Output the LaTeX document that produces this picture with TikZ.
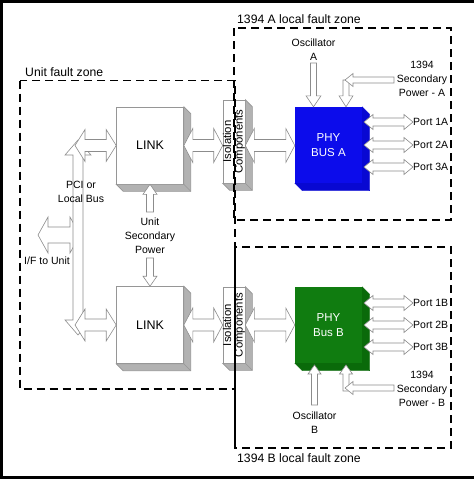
\documentclass[tikz,border=0pt]{standalone}
\usepackage{fontspec}
\setmainfont{Liberation Sans}
\usetikzlibrary{calc}
\definecolor{arrowgray}{RGB}{140,140,140}
\definecolor{shadegray}{RGB}{178,178,178}
\definecolor{boxline}{RGB}{150,150,150}
\definecolor{phyblue}{RGB}{12,12,235}
\definecolor{phybluedark}{RGB}{8,8,210}
\definecolor{phygreen}{RGB}{16,124,16}
\definecolor{phygreendark}{RGB}{10,106,10}
\tikzset{
  barrow/.style={draw=arrowgray, fill=white, line width=0.6pt, line join=miter},
  zone/.style={draw=black, line width=1.2pt, dash pattern=on 8pt off 5pt},
  face/.style={draw=boxline, fill=white, line width=0.6pt, inner sep=0pt},
  sideface/.style={fill=shadegray, draw=boxline, line width=0.6pt},
  phyface/.style={inner sep=0pt, text=white, align=center, font=\fontsize{11.5}{15}\selectfont},
  lbl/.style={font=\fontsize{10.5}{14}\selectfont, align=center, inner sep=0pt},
  zlbl/.style={font=\fontsize{12.2}{14}\selectfont, anchor=west, inner sep=0pt},
}
% double block arrow: start, end, head length, head half width, shaft half width
\newcommand{\dbl}[5]{\draw[barrow] (#1) -- ($(#1)!#3!(#2)!#4!90:(#2)$) -- ($(#1)!#3!(#2)!#5!90:(#2)$) -- ($(#2)!#3!(#1)!#5!-90:(#1)$) -- ($(#2)!#3!(#1)!#4!-90:(#1)$) -- (#2) -- ($(#2)!#3!(#1)!#4!90:(#1)$) -- ($(#2)!#3!(#1)!#5!90:(#1)$) -- ($(#1)!#3!(#2)!#5!-90:(#2)$) -- ($(#1)!#3!(#2)!#4!-90:(#2)$) -- cycle;}
% single block arrow: tail, tip, head length, head half width, shaft half width
\newcommand{\sgl}[5]{\draw[barrow] ($(#1)!#5!90:(#2)$) -- ($(#2)!#3!(#1)!#5!-90:(#1)$) -- ($(#2)!#3!(#1)!#4!-90:(#1)$) -- (#2) -- ($(#2)!#3!(#1)!#4!90:(#1)$) -- ($(#2)!#3!(#1)!#5!90:(#1)$) -- ($(#1)!#5!-90:(#2)$) -- cycle;}
% 3D extrusion of a node (down-right)
\newcommand{\extrude}[3]{\filldraw[#3] (#1.north east) -- ++(#2,#2) -- ($(#1.south east)+(#2,#2)$) -- ($(#1.south west)+(#2,#2)$) -- (#1.south west) -- (#1.south east) -- cycle; \draw[#3] (#1.south east) -- ++(#2,#2);}
\begin{document}
\begin{tikzpicture}[x=1pt,y=-1pt]
\useasboundingbox (0,0) rectangle (474,479);
% outer frame
\fill[black] (0,0) rectangle (474,2.6);
\fill[black] (0,0) rectangle (2.6,479);
\fill[black] (0,475.5) rectangle (474,479);

% boxes
\node[face, minimum width=67pt, minimum height=77pt, font=\fontsize{12.5}{14}\selectfont] (link1) at (150,145.5) {LINK};
\extrude{link1}{7}{sideface}
\node[face, minimum width=67pt, minimum height=77pt, font=\fontsize{12.5}{14}\selectfont] (link2) at (150,325) {LINK};
\extrude{link2}{7}{sideface}
\node[face, minimum width=22pt, minimum height=83pt] (iso1) at (234,141.5) {};
\extrude{iso1}{7}{sideface}
\node[rotate=90, lbl, font=\fontsize{11.3}{11.5}\selectfont] at (iso1) {Isolation\\Components};
\node[face, minimum width=22pt, minimum height=76pt] (iso2) at (234,325) {};
\extrude{iso2}{7}{sideface}
\node[rotate=90, lbl, font=\fontsize{11.3}{11.5}\selectfont] at (iso2) {Isolation\\Components};
\node[phyface, fill=phyblue, minimum width=67pt, minimum height=76pt] (phyA) at (328.5,145) {PHY\\BUS A};
\extrude{phyA}{7.5}{fill=phybluedark, draw=phybluedark}
\node[phyface, fill=phygreen, minimum width=67pt, minimum height=76pt] (phyB) at (328.5,325) {PHY\\Bus B};
\extrude{phyB}{7.5}{fill=phygreendark, draw=phygreendark}

% labels that arrows end on
\node[lbl] (oscA) at (313.5,50) {Oscillator\\A};
\node[lbl] (pwrA) at (422,79) {1394\\Secondary\\Power - A};
\node[lbl] (oscB) at (314.5,422.5) {Oscillator\\B};
\node[lbl] (pwrB) at (422,389) {1394\\Secondary\\Power - B};
\node[lbl, anchor=west] (pA1) at (413,122) {Port 1A};
\node[lbl, anchor=west] (pA2) at (413,145) {Port 2A};
\node[lbl, anchor=west] (pA3) at (413,167) {Port 3A};
\node[lbl, anchor=west] (pB1) at (413,303) {Port 1B};
\node[lbl, anchor=west] (pB2) at (413,325) {Port 2B};
\node[lbl, anchor=west] (pB3) at (413,347) {Port 3B};

% coordinates for arrow ends
\coordinate (ifL) at (38,235);
\coordinate (ifR) at (80,235);
\coordinate (busN) at (78,140);
\coordinate (busS) at (78,335);
\coordinate (bus1) at (75,145.5);
\coordinate (bus2) at (75,325);
\coordinate (iso1L) at (iso1.west |- link1.east);
\coordinate (iso1R) at (iso1.east |- link1.east);
\coordinate (phyAL) at (phyA.west |- link1.east);
\coordinate (iso2L) at (iso2.west |- link2.east);
\coordinate (iso2R) at (iso2.east |- link2.east);
\coordinate (phyBL) at (phyB.west |- link2.east);
\coordinate (upw1) at (150,212);
\coordinate (upw2) at (150,258);
\coordinate (oscAe) at (313.5,63);
\coordinate (oscAt) at (oscAe |- phyA.north);
\coordinate (pwA1) at (346,80);
\coordinate (pwA1t) at (pwA1 |- phyA.north);
\coordinate (pwA2) at (394,80);
\coordinate (pwA3) at (345,80);
\coordinate (oscBe) at (314.5,405);
\coordinate (oscBt) at (314.5,365);
\coordinate (pwB1) at (346,391);
\coordinate (pwB1t) at (346,365);
\coordinate (pwB2) at (394,388);
\coordinate (pwB3) at (345,388);
\coordinate (pa1) at (364,122);
\coordinate (pa2) at (364,145);
\coordinate (pa3) at (364,167);
\coordinate (pb1) at (364,303);
\coordinate (pb2) at (364,325);
\coordinate (pb3) at (364,347);

% bus and interface arrows
\dbl{ifL}{ifR}{10pt}{18pt}{8pt}
\dbl{busN}{busS}{15pt}{13pt}{5pt}
\dbl{bus1}{link1.west}{10pt}{16pt}{6pt}
\dbl{bus2}{link2.west}{10pt}{16pt}{6pt}
\dbl{link1.east}{iso1L}{9pt}{17pt}{6pt}
\dbl{iso1R}{phyAL}{9pt}{17pt}{6pt}
\dbl{link2.east}{iso2L}{9pt}{17pt}{6pt}
\dbl{iso2R}{phyBL}{9pt}{17pt}{6pt}
% unit power
\sgl{upw1}{link1.south}{10pt}{7pt}{3.5pt}
\sgl{upw2}{link2.north}{10pt}{7pt}{3.5pt}
% oscillators and 1394 power
\sgl{oscAe}{oscAt}{11pt}{7.5pt}{3pt}
\sgl{pwA1}{pwA1t}{11pt}{7pt}{3pt}
\sgl{pwA2}{pwA3}{8pt}{6.5pt}{3pt}
\sgl{oscBe}{oscBt}{9pt}{6.5pt}{3pt}
\sgl{pwB1}{pwB1t}{9pt}{6.5pt}{3pt}
\sgl{pwB2}{pwB3}{8pt}{6.5pt}{3pt}
% ports
\dbl{pa1}{pA1.west}{9pt}{7.5pt}{4pt}
\dbl{pa2}{pA2.west}{9pt}{7.5pt}{4pt}
\dbl{pa3}{pA3.west}{9pt}{7.5pt}{4pt}
\dbl{pb1}{pB1.west}{9pt}{7.5pt}{4pt}
\dbl{pb2}{pB2.west}{9pt}{7.5pt}{4pt}
\dbl{pb3}{pB3.west}{9pt}{7.5pt}{4pt}

% free labels drawn over the bus
\node[lbl] (pci) at (81,192) {PCI or\\Local Bus};
\node[lbl] (ifu) at (47,261) {I/F to Unit};
\node[lbl] (upw) at (150,236) {Unit\\Secondary\\Power};

% fault zones
\draw[zone] (20,80.5) rectangle (235,389);
\draw[zone] (234,28) rectangle (451,220);
\draw[zone] (235,247) rectangle (451,448);
\draw[black, line width=1.2pt] (235,247) -- (235,448);
\node[zlbl] (zu) at (25,72) {Unit fault zone};
\node[zlbl] (za) at (237,19.5) {1394 A local fault zone};
\node[zlbl] (zb) at (237,458) {1394 B local fault zone};
\end{tikzpicture}
\end{document}
